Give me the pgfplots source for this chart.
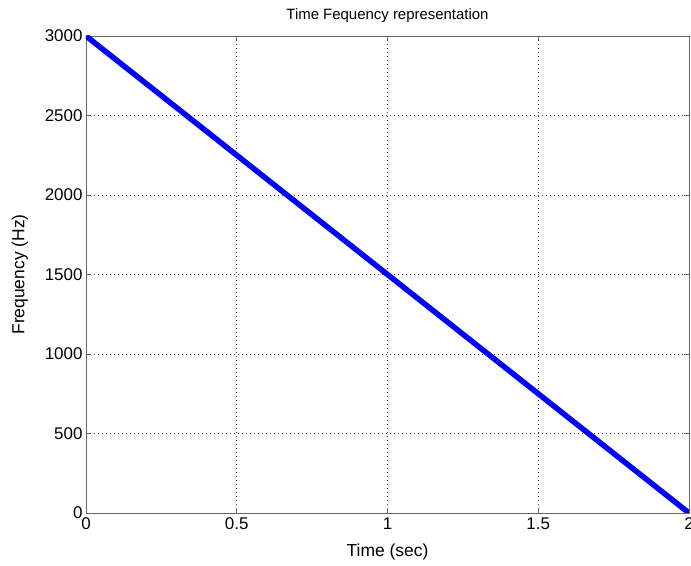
\documentclass[border=0pt]{standalone}
\usepackage{pgfplots}
\pgfplotsset{compat=1.18}
\usepackage{fontspec}
\setmainfont{Liberation Sans}
\begin{document}
\begin{tikzpicture}
\begin{axis}[
  scale only axis,
  width=603bp, height=477bp,
  at={(0,0)}, anchor=south west,
  xmin=0, xmax=2, ymin=0, ymax=3000,
  xtick={0,0.5,1,1.5,2},
  ytick={0,500,1000,1500,2000,2500,3000},
  /pgf/number format/assume math mode=true,
  /pgf/number format/fixed,
  /pgf/number format/1000 sep={},
  tick label style={font=\fontsize{17}{18}\selectfont},
  xticklabel style={yshift=-1bp},
  title style={font=\fontsize{15}{17}\selectfont, yshift=4bp},
  title={Time Fequency representation},
  xlabel={Time (sec)},
  ylabel={Frequency (Hz)},
  xlabel style={font=\fontsize{17.5}{19}\selectfont, yshift=-8bp},
  ylabel style={font=\fontsize{17.5}{19}\selectfont, yshift=10bp},
  grid=major,
  major grid style={black!75, line width=0.9bp, dash pattern=on 1bp off 3bp},
  axis line style={black!60, line width=0.8bp},
  tick style={black!60, line width=0.8bp},
  major tick length=5bp,
  tick align=inside,
  xtick pos=both, ytick pos=both,
]
\addplot[blue, line width=5.5bp] coordinates {(0,3000) (2,0)};
\end{axis}
\pgfresetboundingbox
\path[use as bounding box] (-86bp,-53bp) rectangle (605bp,513bp);
\end{tikzpicture}
\end{document}
